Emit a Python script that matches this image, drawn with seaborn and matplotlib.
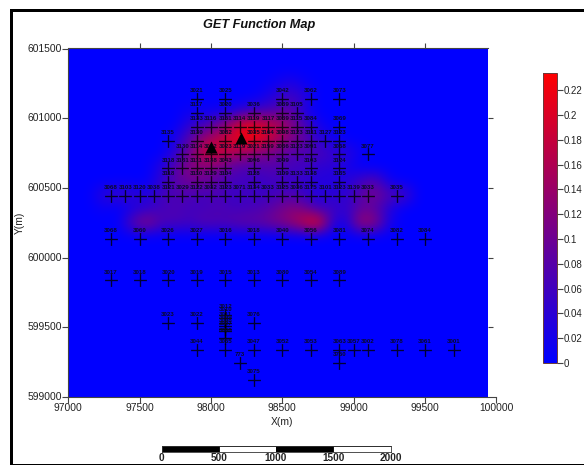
import numpy as np
import pandas as pd
import matplotlib
matplotlib.use('Agg')
import matplotlib.pyplot as plt
from matplotlib.colors import LinearSegmentedColormap
from matplotlib.patches import Rectangle
import seaborn as sns

# GET values, 100 m cells, north to south
# columns 97050 ... 99450, rows 601250 ... 600150
field_values = [
    [0, 0, 0, 0, 0, 0, 0, 0, 0, 0, 0, 0, 0, 0, .01, .03, .01, 0, 0, 0, 0, 0, 0, 0, 0],
    [0, 0, 0, 0, 0, 0, 0, 0, 0, 0, 0, 0, 0, .01, .04, .06, .04, 0, 0, 0, 0, 0, 0, 0, 0],
    [0, 0, 0, 0, 0, 0, 0, 0, .01, .01, .01, .02, .05, .06, .07, .09, .03, 0, 0, 0, 0, 0, 0, 0, 0],
    [0, 0, 0, 0, 0, 0, 0, 0, .04, .06, .10, .16, .22, .20, .17, .13, .07, .02, 0, 0, 0, 0, 0, 0, 0],
    [0, 0, 0, 0, 0, 0, 0, .02, .08, .14, .17, .20, .23, .21, .16, .12, .09, .04, .02, 0, 0, 0, 0, 0, 0],
    [0, 0, 0, 0, 0, 0, 0, .04, .10, .18, .19, .16, .14, .12, .10, .08, .07, .07, .05, .04, .01, 0, 0, 0, 0],
    [0, 0, 0, 0, 0, 0, .03, .08, .12, .12, .11, .08, .07, .07, .08, .06, .06, .04, .04, .02, 0, 0, 0, 0, 0],
    [0, 0, 0, 0, 0, 0, .04, .08, .10, .10, .08, .06, .06, .05, .06, .05, .05, .03, .03, .03, .06, .08, .01, 0, 0],
    [0, 0, .04, .05, .05, .03, .06, .07, .07, .06, .07, .05, .06, .05, .06, .07, .05, .03, .04, .04, .08, .11, .07, .07, 0],
    [0, 0, .01, 0, .02, .04, .06, .07, .06, .06, .07, .06, .06, .07, .09, .12, .11, .05, .06, .04, .09, .08, .03, 0, 0],
    [0, 0, 0, 0, .08, .13, .07, .07, .06, .08, .07, .08, .09, .09, .11, .13, .18, .23, .04, .02, .15, .13, .02, 0, 0],
    [0, 0, 0, 0, 0, 0, 0, 0, 0, 0, 0, 0, 0, 0, 0, 0, 0, 0, 0, 0, 0, 0, 0, 0, 0],
]

# stations, one list of x / labels for each northing
row_y = [601140, 601040, 600940, 600840, 600740, 600640, 600540, 600440,
         600136, 599836, 599534, 599336, 599243, 599122]
row_x = [
    [97900, 98100, 98500, 98700, 98900],
    [97900, 98100, 98300, 98500, 98600],
    [97900, 98000, 98100, 98200, 98300, 98400, 98500, 98600, 98700, 98900],
    [97700, 97900, 98100, 98300, 98400, 98500, 98600, 98700, 98800, 98900],
    [97800, 97900, 98000, 98100, 98200, 98300, 98400, 98500, 98600, 98700, 98900, 99100],
    [97700, 97800, 97900, 98000, 98100, 98300, 98500, 98700, 98900],
    [97700, 97900, 98000, 98100, 98300, 98500, 98600, 98700, 98900],
    [97300, 97400, 97500, 97600, 97700, 97800, 97900, 98000, 98100, 98200, 98300, 98400,
     98500, 98600, 98700, 98800, 98900, 99000, 99100, 99300],
    [97300, 97500, 97700, 97900, 98100, 98300, 98500, 98700, 98900, 99100, 99300, 99500],
    [97300, 97500, 97700, 97900, 98100, 98300, 98500, 98700, 98900],
    [97700, 97900, 98100, 98300],
    [97900, 98100, 98300, 98500, 98700, 98900, 99000, 99100, 99300, 99500, 99700],
    [98200, 98900],
    [98300],
]
row_labels = [
    ['3021', '3025', '3042', '3062', '3073'],
    ['3117', '3020', '3036', '3039', '3105'],
    ['3133', '3116', '3151', '3114', '3119', '3117', '3039', '3115', '3084', '3069'],
    ['3135', '3130', '3082', '3035', '3164', '3098', '3123', '3111', '3127', '3123'],
    ['3130', '3114', '3022', '3023', '3119', '3021', '3159', '3036', '3123', '3091', '3068', '3077'],
    ['3118', '3131', '3111', '3138', '3043', '3096', '3099', '3103', '3124'],
    ['3118', '3110', '3129', '3104', '3128', '3109', '3133', '3138', '3135'],
    ['3068', '3103', '3120', '3038', '3121', '3029', '3122', '3032', '3123', '3071', '3134', '3033',
     '3125', '3036', '3175', '3101', '3123', '3139', '3033', '3035'],
    ['3068', '3060', '3026', '3027', '3016', '3018', '3040', '3056', '3081', '3074', '3082', '3084'],
    ['3017', '3018', '3020', '3019', '3015', '3013', '3080', '3054', '3089'],
    ['3023', '3022', '3011', '3076'],
    ['3044', '3055', '3047', '3052', '3053', '3063', '3057', '3002', '3078', '3061', '3001'],
    ['773', '3750'],
    ['3075'],
]
# tight cluster south of 600000 on the 98100 line
cluster_y = [599590, 599565, 599510, 599490, 599470, 599420]
cluster_labels = ['3012', '3010', '3009', '3008', '3007', '3006']

peak_x = [98000, 98210]
peak_y = [600795, 600857]

x_ticks = [97000, 97500, 98000, 98500, 99000, 99500, 100000]
y_ticks = [599000, 599500, 600000, 600500, 601000, 601500]
cbar_ticks = [0, .02, .04, .06, .08, .1, .12, .14, .16, .18, .2, .22]
cbar_labels = ['0', '0.02', '0.04', '0.06', '0.08', '0.1', '0.12', '0.14', '0.16', '0.18', '0.2', '0.22']
scale_edges = [0, 500, 1000, 1500]
scale_colors = ['black', 'white', 'black', 'white']
scale_ticks = [0, 500, 1000, 1500, 2000]

W, H = 584, 465
sns.set_theme(style='white')
plt.rcParams['font.family'] = ['Liberation Sans', 'DejaVu Sans']
axis_grey = '#444444'

def box(left, top, right, bottom):
    return [left / W, 1 - bottom / H, (right - left) / W, (bottom - top) / H]

fig = plt.figure(figsize=(W / 100, H / 100), dpi=100)

# black frame, only left / top / bottom
for rect in [box(10, 9, 13.3, 465), box(10, 9, 584, 12.5), box(10, 463.5, 584, 465)]:
    fig.add_artist(Rectangle((rect[0], rect[1]), rect[2], rect[3], transform=fig.transFigure,
                             color='black', lw=0, zorder=0))

ax = fig.add_axes(box(68.2, 48.5, 496.5, 397))

# pad the read area with zeros out to the full map
grid = np.pad(np.array(field_values), ((2, 11), (0, 5)))
cmap = LinearSegmentedColormap.from_list('get_map', ['#0000ff', '#ff0000'])
im = ax.imshow(grid, extent=(97000, 100000, 599000, 601500), origin='upper', aspect='auto',
               cmap=cmap, vmin=0, vmax=0.234, interpolation='bicubic', zorder=1)
im.set_clip_path(Rectangle((97000, 599000), 2940, 2500, transform=ax.transData))

stations = pd.DataFrame({
    'x': [x for xs, y in zip(row_x, row_y) for x in xs] + [98100] * len(cluster_y),
    'y': [y for xs, y in zip(row_x, row_y) for x in xs] + cluster_y,
    'label': [l for ls in row_labels for l in ls] + cluster_labels,
})
sns.scatterplot(data=stations, x='x', y='y', marker='+', s=85, color='black', linewidth=0.95,
                alpha=0.8, legend=False, ax=ax, zorder=3)
ax.collections[-1].set_snap(False)
for _, row in stations.iterrows():
    ax.annotate(row['label'], (row['x'], row['y']), xytext=(0, 6), textcoords='offset points',
                ha='center', va='center', fontsize=4.4, fontweight='bold', color='#0a0a28', zorder=4)
sns.scatterplot(x=peak_x, y=peak_y, marker='^', s=75, color='black', linewidth=0,
                legend=False, ax=ax, zorder=5)

ax.set_xlim(97000, 100000)
ax.set_ylim(599000, 601500)
ax.set_xticks(x_ticks)
ax.set_yticks(y_ticks)
ax.set_xticklabels([str(t) for t in x_ticks])
ax.set_yticklabels([str(t) for t in y_ticks], va='center')
ax.tick_params(axis='both', direction='out', length=4, width=0.8, color=axis_grey, labelsize=7.4,
               labelcolor='#222222', bottom=True, left=True, pad=0.5)
ax.set_xlabel('X(m)', fontsize=7.4, color='#222222', labelpad=2.5)
ax.set_ylabel('Y(m)', fontsize=7.4, color='#222222', labelpad=2)
ax.set_title('GET Function Map', fontsize=9.2, fontweight='bold', fontstyle='italic',
             color='#111111', x=0.446, y=1.06, pad=0)
ax.spines['right'].set_visible(False)
ax.spines['top'].set_bounds(97000, 99940)
for side in ['left', 'bottom', 'top']:
    ax.spines[side].set_color(axis_grey)
    ax.spines[side].set_linewidth(0.8)

# tick marks on the other two sides, no labels there
top_axis = ax.secondary_xaxis('top')
top_axis.set_xticks(x_ticks[1:-1])
top_axis.set_xticklabels([])
top_axis.tick_params(direction='out', length=3.5, width=0.8, color=axis_grey, top=True)
top_axis.spines['top'].set_visible(False)
right_axis = ax.secondary_yaxis(2940 / 3000)
right_axis.set_yticks(y_ticks[1:-1])
right_axis.set_yticklabels([])
right_axis.tick_params(direction='out', length=3.5, width=0.8, color=axis_grey, right=True)
for spine in right_axis.spines.values():
    spine.set_visible(False)

# colour bar
cax = fig.add_axes(box(543, 72.7, 557.3, 363))
cbar = fig.colorbar(im, cax=cax)
cbar.set_ticks(cbar_ticks)
cbar.set_ticklabels(cbar_labels)
cbar.ax.tick_params(direction='out', length=4, width=0.8, color=axis_grey, labelsize=7,
                    labelcolor='#222222', right=True, pad=0.5)
cbar.outline.set_edgecolor('#6a3a3a')
cbar.outline.set_linewidth(0.7)

# scale bar
scale_ax = fig.add_axes(box(161.5, 445.5, 390.5, 451.5))
scale_ax.barh([0] * 4, [500] * 4, left=scale_edges, height=1, color=scale_colors,
              edgecolor='black', linewidth=0.6)
scale_ax.set_xlim(0, 2000)
scale_ax.set_ylim(-0.5, 0.5)
scale_ax.set_yticks([])
scale_ax.set_xticks(scale_ticks)
scale_ax.set_xticklabels([str(t) for t in scale_ticks], fontsize=7.2, fontweight='bold', color='#222222')
scale_ax.tick_params(axis='x', length=0, pad=1)
for spine in scale_ax.spines.values():
    spine.set_color('#333333')
    spine.set_linewidth(0.6)

fig.savefig('out.png', dpi=100)
